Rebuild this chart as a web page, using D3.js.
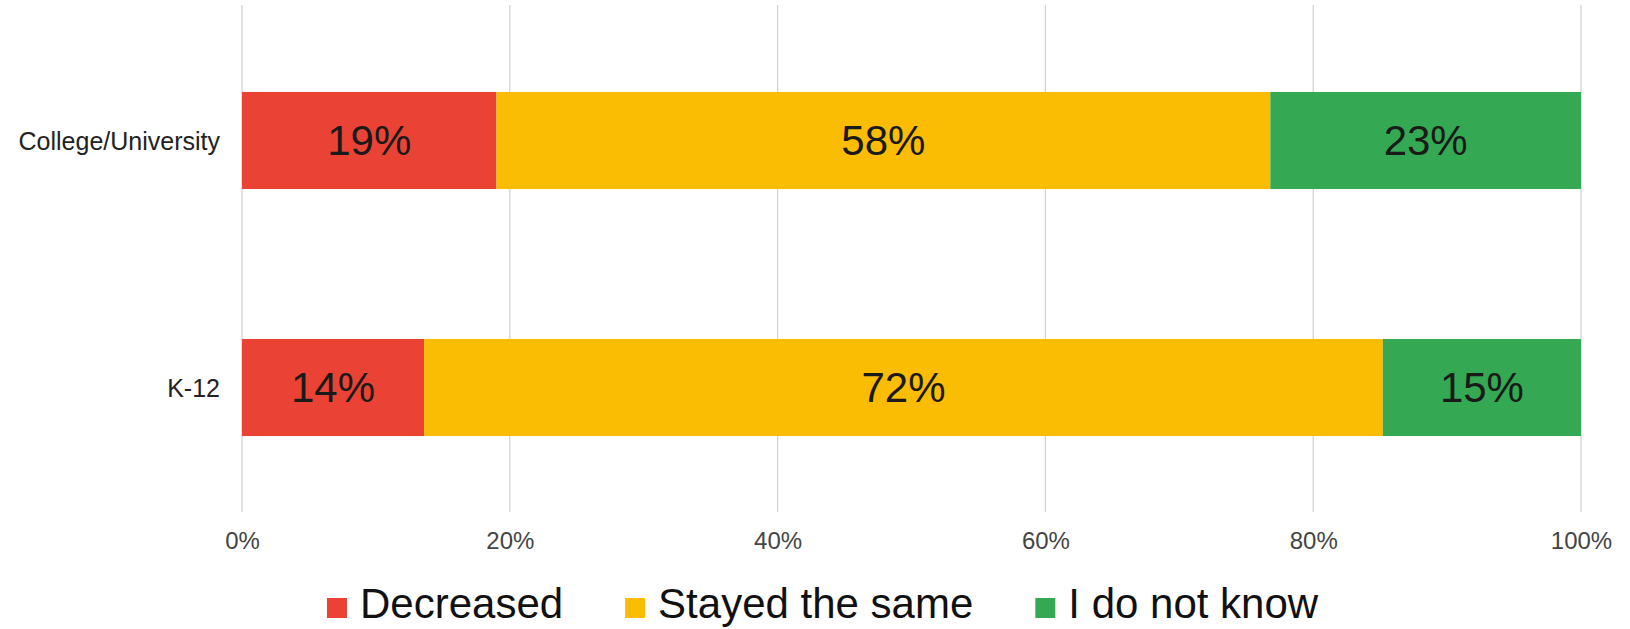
<!DOCTYPE html>
<html>
<head>
<meta charset="utf-8">
<script src="https://cdn.jsdelivr.net/npm/d3@7"></script>
<style>
  html, body { margin: 0; padding: 0; background: #fff; }
  svg { display: block; font-family: "Liberation Sans", Arial, sans-serif; }
</style>
</head>
<body>
<svg id="chart" width="1630" height="629"></svg>
<script>
const categories = ["College/University", "K-12"];
const seriesNames = ["Decreased", "Stayed the same", "I do not know"];
const decreased = [19, 13.6];
const stayedSame = [57.8, 71.6];
const doNotKnow = [23.2, 14.8];
const tickValues = [0, 20, 40, 60, 80, 100];
const tickLabels = ["0%", "20%", "40%", "60%", "80%", "100%"];
const colors = ["#EA4335", "#FBBC04", "#34A853"];

const svg = d3.select("#chart");
const x = d3.scaleLinear().domain([0, 100]).range([242, 1581]);
const y = d3.scaleBand().domain(categories).range([17, 511]).paddingInner(0.607).paddingOuter(0.3035);

const seriesValues = [decreased, stayedSame, doNotKnow];
const rows = categories.map((c, i) => {
  const o = { category: c };
  seriesNames.forEach((s, j) => { o[s] = seriesValues[j][i]; });
  return o;
});
const stacked = d3.stack().keys(seriesNames)(rows);

// gridlines
svg.append("g").selectAll("line").data(tickValues).join("line")
  .attr("x1", d => x(d)).attr("x2", d => x(d))
  .attr("y1", 5).attr("y2", 512)
  .attr("stroke", "#d0d0d0").attr("stroke-width", 1.2);

// bars
const layers = svg.append("g").selectAll("g").data(stacked).join("g")
  .attr("fill", (d, i) => colors[i]);
layers.selectAll("rect").data(d => d).join("rect")
  .attr("x", d => x(d[0]))
  .attr("y", d => y(d.data.category))
  .attr("width", d => x(d[1]) - x(d[0]))
  .attr("height", y.bandwidth());

// value labels
const lbl = svg.append("g");
stacked.forEach(layer => {
  layer.forEach(d => {
    lbl.append("text")
      .attr("x", (x(d[0]) + x(d[1])) / 2)
      .attr("y", y(d.data.category) + y.bandwidth() / 2)
      .attr("dy", "0.35em")
      .attr("text-anchor", "middle")
      .attr("font-size", 42)
      .attr("fill", "#1a1a1a")
      .text(Math.round(d[1] - d[0]) + "%");
  });
});

// category labels
svg.append("g").selectAll("text").data(categories).join("text")
  .attr("x", 220)
  .attr("y", d => y(d) + y.bandwidth() / 2)
  .attr("dy", "0.36em")
  .attr("text-anchor", "end")
  .attr("font-size", 25)
  .attr("fill", "#222")
  .text(d => d);

// x axis tick labels
const xAxis = d3.axisBottom(x).tickValues(tickValues)
  .tickFormat((d, i) => tickLabels[i]).tickSize(0).tickPadding(0);
const ax = svg.append("g").attr("transform", "translate(0,532)").call(xAxis);
ax.select(".domain").remove();
ax.selectAll("text").attr("font-size", 24).attr("fill", "#444")
  .attr("font-family", "'Liberation Sans', Arial, sans-serif");

// legend
const legend = svg.append("g");
let lx = 327;
seriesNames.forEach((s, i) => {
  legend.append("rect").attr("x", lx).attr("y", 598).attr("width", 20).attr("height", 20).attr("fill", colors[i]);
  const t = legend.append("text").attr("x", lx + 33).attr("y", 618)
    .attr("font-size", 42).attr("fill", "#111").text(s);
  lx = lx + 33 + t.node().getComputedTextLength() + 62;
});
</script>
</body>
</html>
